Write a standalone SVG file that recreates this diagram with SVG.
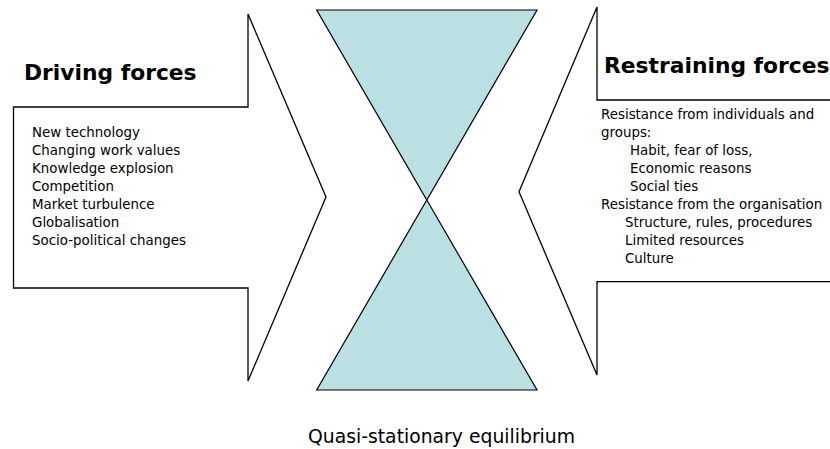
<svg xmlns="http://www.w3.org/2000/svg" width="830" height="449" viewBox="0 0 830 449">
<style>
.shape{fill:#fff;stroke:#000;stroke-width:1.3;stroke-linejoin:miter}
.glass{fill:#BAE0E3;stroke:#000;stroke-width:1.2}
.title{font-family:"DejaVu Sans",Verdana,sans-serif;font-weight:bold;font-size:21.8px;fill:#000}
.item{font-family:"DejaVu Sans",Verdana,sans-serif;font-size:13.4px;fill:#000}
.caption{font-family:"DejaVu Sans",Verdana,sans-serif;font-size:18.8px;fill:#000}
</style>
<rect width="830" height="449" fill="#fff"/>
<g id="hourglass">
<polygon class="glass" points="316.7,10 537,10 426.8,200"/>
<polygon class="glass" points="426.8,200 537,390 316.7,390"/>
</g>
<g id="driving-forces">
<polygon class="shape" points="13.5,107 248,107 248,14 326,197 248,381 248,288 13.5,288"/>
<text class="title" x="24" y="80">Driving forces</text>
<text class="item" x="32">
<tspan x="32" y="136.7">New technology</tspan>
<tspan x="32" y="154.7">Changing work values</tspan>
<tspan x="32" y="172.7">Knowledge explosion</tspan>
<tspan x="32" y="190.7">Competition</tspan>
<tspan x="32" y="208.7">Market turbulence</tspan>
<tspan x="32" y="226.7">Globalisation</tspan>
<tspan x="32" y="244.7">Socio-political changes</tspan>
</text>
</g>
<g id="restraining-forces">
<polyline class="shape" points="840,100 597,100 597,7 519,191.7 597,375 597,281.7 840,281.7"/>
<text class="title" x="604" y="72.7">Restraining forces</text>
<text class="item">
<tspan x="601" y="119">Resistance from individuals and</tspan>
<tspan x="601" y="137">groups:</tspan>
<tspan x="630" y="155">Habit, fear of loss,</tspan>
<tspan x="630" y="173">Economic reasons</tspan>
<tspan x="630" y="191">Social ties</tspan>
<tspan x="601" y="209">Resistance from the organisation</tspan>
<tspan x="625" y="227">Structure, rules, procedures</tspan>
<tspan x="625" y="245">Limited resources</tspan>
<tspan x="625" y="263">Culture</tspan>
</text>
</g>
<g id="equilibrium-label">
<text class="caption" x="308" y="443">Quasi-stationary equilibrium</text>
</g>
</svg>
